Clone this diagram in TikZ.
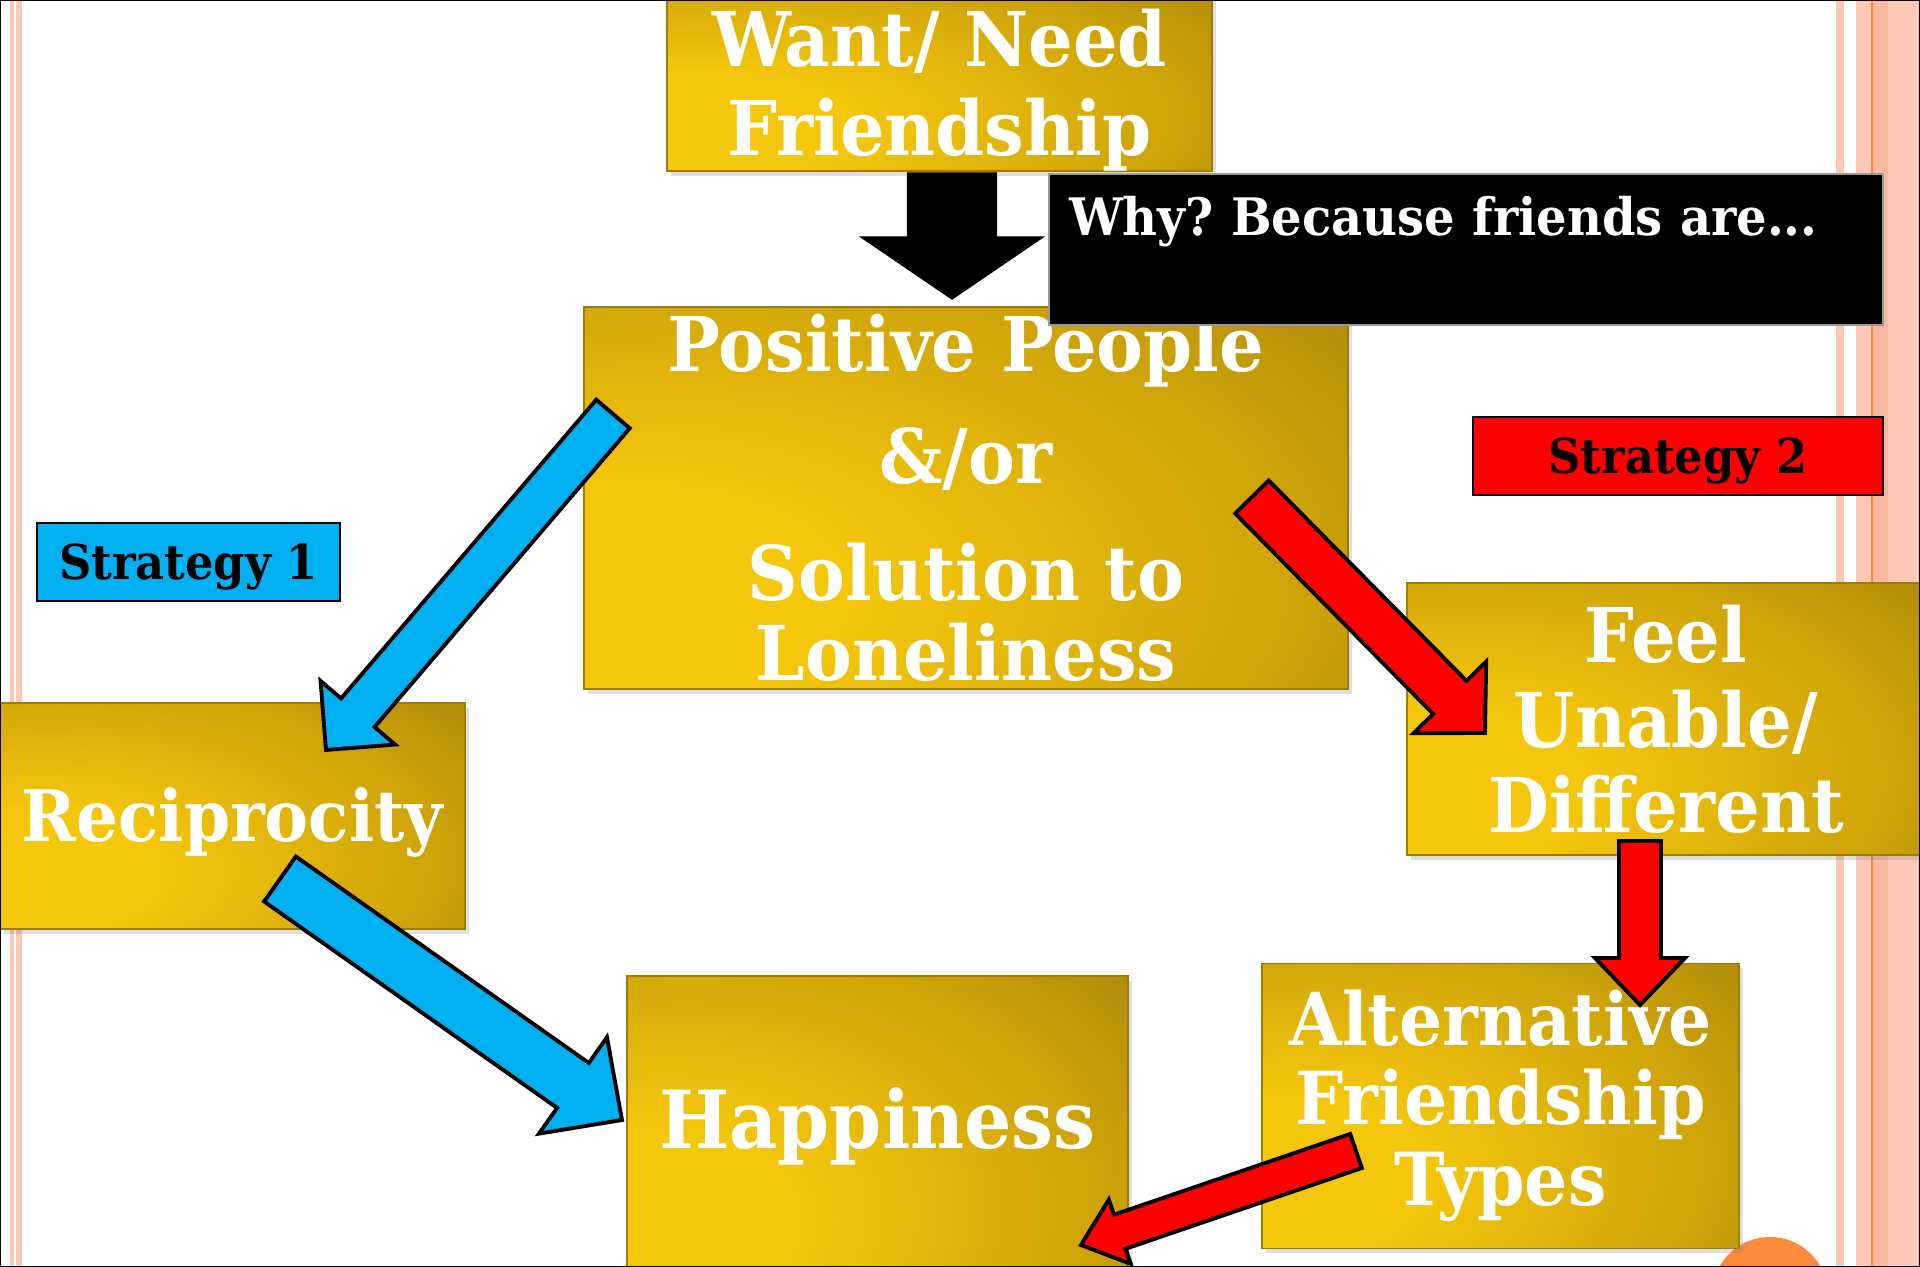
\documentclass[tikz,border=0pt]{standalone}
\usepackage{fontspec}
\setmainfont{DejaVu Serif}[FakeStretch=0.93]
\usepackage{tikz}
\usetikzlibrary{calc,shadows}
\frenchspacing
\definecolor{goldhi}{HTML}{F5C70C}
\definecolor{goldmid}{HTML}{CCA209}
\definecolor{goldlo}{HTML}{866908}
\definecolor{goldedge}{HTML}{9C7C0A}
\definecolor{stripe}{HTML}{FBC9B5}
\definecolor{stripedark}{HTML}{F9B99E}
\definecolor{stripeline}{HTML}{F68B3F}
\definecolor{dotorange}{HTML}{FB8A3C}
\definecolor{stratblue}{HTML}{00B0F0}
\definecolor{stratred}{HTML}{FF0000}
\pgfdeclareradialshading{goldglow}{\pgfpoint{-25bp}{-14bp}}{color(0bp)=(goldhi); color(14bp)=(goldhi); color(40bp)=(goldmid); color(72bp)=(goldlo); color(130bp)=(goldlo)}
\tikzset{
  goldbox/.style={shading=goldglow, draw=goldedge, line width=0.5pt, text=white, align=center,
    inner sep=0pt, font=\bfseries\fontsize{21.5pt}{23pt}\selectfont,
    drop shadow={shadow xshift=0.4mm, shadow yshift=-0.5mm, opacity=0.25}},
  whybox/.style={fill=black, draw=black!40, line width=0.3pt, text=white, align=left, inner xsep=2mm, inner ysep=0pt,
    text width=79.4mm, text height=6.2mm, text depth=8.9mm, font=\bfseries\fontsize{14.7pt}{16pt}\selectfont},
  tagbox/.style={draw=black, line width=0.8pt, text=black, inner sep=0pt, minimum height=7.8mm,
    text height=3.6mm, text depth=0mm, font=\bfseries\fontsize{13.7pt}{16pt}\selectfont},
  blackarrow/.style={fill=black},
  bluearrow/.style={fill=stratblue, draw=black, line width=1.1pt},
  redarrow/.style={fill=stratred, draw=black, line width=1.1pt}
}
% tail, tip, style, shaft half width, head half width, head length
\newcommand{\blockarrow}[6]{%
  \coordinate (neck) at ($(#2)!#6!(#1)$);
  \draw[#3] ($(#1)!#4!90:(#2)$) -- ($(neck)!#4!90:(#2)$) -- ($(neck)!#5!90:(#2)$) -- (#2)
    -- ($(neck)!#5!-90:(#2)$) -- ($(neck)!#4!-90:(#2)$) -- ($(#1)!#4!-90:(#2)$) -- cycle;
}

\begin{document}
\begin{tikzpicture}[x=0.1mm, y=-0.1mm]
  \useasboundingbox (0,0) rectangle (1920,1267);
  \clip (0,0) rectangle (1920,1267);
  % page stripes
  \fill[stripe] (10,0) rectangle (14,1267);
  \fill[stripe] (16,0) rectangle (22,1267);
  \fill[stripe] (1836,0) rectangle (1844,1267);
  \fill[stripe] (1856,0) rectangle (1920,1267);
  \fill[stripedark] (1873,0) rectangle (1888,1267);
  \fill[stripeline] (1871,0) rectangle (1873,1267);
  \fill[dotorange] (1770,1295) circle (58);

  \node[goldbox, minimum width=54.5mm, minimum height=17.9mm] (want) at (939.5,79.5)
    {\rule{0pt}{7.8mm}Want/ Need\\[0.8mm]Friendship};
  \node[goldbox, minimum width=76.4mm, minimum height=38.2mm] (positive) at (966,498)
    {Positive People\\[3.1mm]\&/or\\[3.6mm]Solution to\\Loneliness};
  \node[goldbox, minimum width=46.5mm, minimum height=22.6mm, text height=5.2mm, text depth=0mm,
    font=\bfseries\fontsize{20.2pt}{22pt}\selectfont] (recip) at (232.5,816) {Reciprocity};
  \node[goldbox, minimum width=50.1mm, minimum height=32.4mm, text height=2.2mm, text depth=0mm,
    font=\bfseries\fontsize{22.8pt}{26pt}\selectfont] (happy) at (877.5,1138) {Happiness};
  \node[goldbox, minimum width=51.8mm, minimum height=27.2mm,
    font=\bfseries\fontsize{21.5pt}{23pt}\selectfont] (feel) at (1666,719) {Feel\\[0.4mm]Unable/\\[0.4mm]Different};
  \node[goldbox, minimum width=47.7mm, minimum height=28.5mm,
    font=\bfseries\fontsize{20.8pt}{22pt}\selectfont] (alt) at (1500.5,1106) {Alternative\\[0.2mm]Friendship\\[0.4mm]Types};

  \node[whybox] (why) at (1466,249.5) {Why? Because friends are...};
  \node[tagbox, fill=stratblue, minimum width=30.3mm] (strat1) at (188.5,562) {Strategy 1};
  \node[tagbox, fill=stratred, minimum width=41mm] (strat2) at (1678,456) {Strategy 2};

  % arrow ends
  \coordinate (wantout) at (952,173);
  \coordinate (posin) at (952,299);
  \coordinate (posleft) at (613,414);
  \coordinate (recipin) at (326,750);
  \coordinate (recipout) at (280,879);
  \coordinate (happyin) at (622,1120);
  \coordinate (posright) at (1252,497);
  \coordinate (feelin) at (1485,733);
  \coordinate (feelout) at (1640,841);
  \coordinate (altin) at (1640,1005);
  \coordinate (altout) at (1356,1151);
  \coordinate (happyright) at (1081,1245);

  \blockarrow{wantout}{posin}{blackarrow}{4.45mm}{9.1mm}{6.2mm}
  \blockarrow{posleft}{recipin}{bluearrow}{2.2mm}{4.9mm}{4.9mm}
  \blockarrow{recipout}{happyin}{bluearrow}{2.75mm}{5.9mm}{6mm}
  \blockarrow{posright}{feelin}{redarrow}{2.35mm}{5.1mm}{5mm}
  \blockarrow{feelout}{altin}{redarrow}{2.1mm}{4.5mm}{4.7mm}
  \blockarrow{altout}{happyright}{redarrow}{1.8mm}{3.4mm}{4.1mm}

  \draw[black, line width=0.8pt] (0,0) rectangle (1920,1267);
\end{tikzpicture}
\end{document}
